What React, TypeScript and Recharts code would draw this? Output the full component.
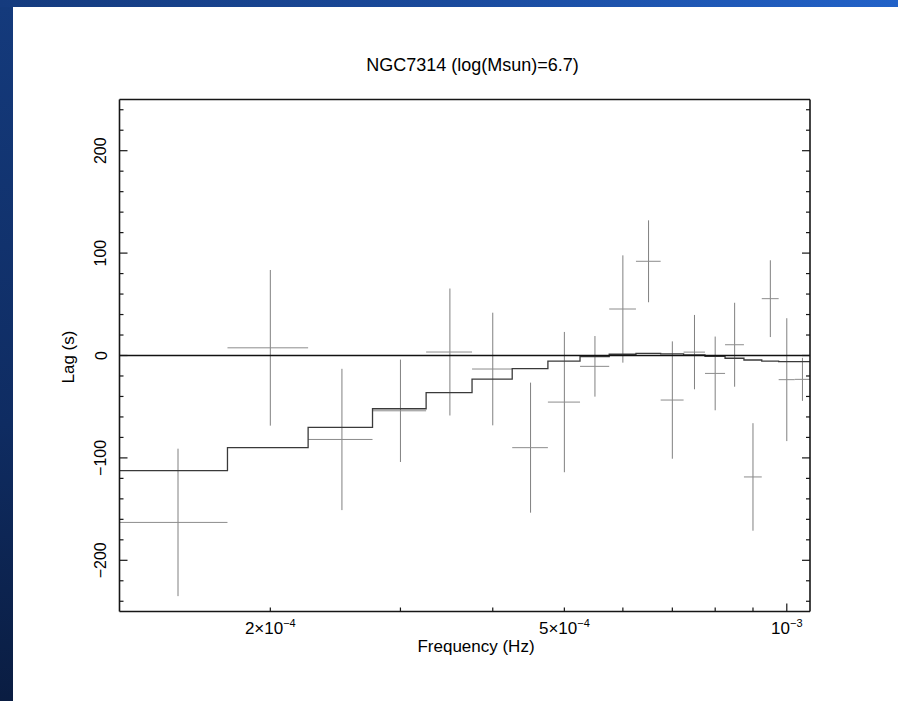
import React from "react";
import {
  ComposedChart,
  Scatter,
  Line,
  XAxis,
  YAxis,
  ErrorBar,
  ReferenceLine,
  Customized,
} from "recharts";

// frequency bins (Hz), centres of each bin
const freqs = [
  1.5e-4, 2.0e-4, 2.5e-4, 3.0e-4, 3.5e-4, 4.0e-4, 4.5e-4, 5.0e-4, 5.5e-4, 6.0e-4,
  6.5e-4, 7.0e-4, 7.5e-4, 8.0e-4, 8.5e-4, 9.0e-4, 9.5e-4, 1.0e-3, 1.05e-3,
];
const BIN_HALF = 2.5e-5;

// measured lags and 1-sigma errors (s)
const lags = [
  -163, 7.5, -82, -54, 3.4, -13.2, -90, -45.5, -10.6, 45.4, 92, -43.5, 3.3, -17.5,
  10.5, -118.6, 55.5, -23.6, -23.3,
];
const lagErrs = [
  72, 76, 69, 50, 62, 55, 63.5, 68.5, 29.6, 52.4, 40, 57.3, 36.3, 36, 41, 52.5, 37.5,
  60, 21,
];

// model (step histogram)
const modelLags = [
  -112.5, -90, -70.1, -52, -36.3, -23, -12.9, -5.4, -1, 1.2, 2.1, 1.5, 0.5, -0.8,
  -2.7, -4.4, -5.4, -6, -6,
];

const xDomain = [1.25e-4, 1.075e-3];
const yDomain = [-250, 250];

const xTicks = [2e-4, 3e-4, 4e-4, 5e-4, 6e-4, 7e-4, 8e-4, 9e-4, 1e-3];
const xLabels = [
  { value: 2e-4, base: "2×10", exp: "−4" },
  { value: 5e-4, base: "5×10", exp: "−4" },
  { value: 1e-3, base: "10", exp: "−3" },
];
const xDecades = [1e-3];

const yTicks = [
  -240, -220, -200, -180, -160, -140, -120, -100, -80, -60, -40, -20, 0, 20, 40, 60,
  80, 100, 120, 140, 160, 180, 200, 220, 240,
];
const yLabels = [-200, -100, 0, 100, 200];

const FONT = "'Liberation Sans', Arial, Helvetica, sans-serif";
const INK = "#161616";

const points = freqs.map((f, i) => ({
  f,
  lag: lags[i],
  errX: BIN_HALF,
  errY: lagErrs[i],
}));

const stepData = freqs
  .map((f, i) => ({ f: f - BIN_HALF, lag: modelLags[i] }))
  .concat([
    {
      f: freqs[freqs.length - 1] + BIN_HALF,
      lag: modelLags[modelLags.length - 1],
    },
  ]);

const fmtY = (v: number) => (v < 0 ? `−${Math.abs(v)}` : `${v}`);

function BottomTick(props: any) {
  const { x, y, payload } = props;
  const v = payload.value;
  const len = xDecades.includes(v) ? 8 : 4;
  const lab = xLabels.find((l) => l.value === v);
  return (
    <g>
      <line x1={x} x2={x} y1={y} y2={y - len} stroke={INK} strokeWidth={1.2} />
      {lab && (
        <text
          x={x}
          y={y + 22}
          textAnchor="middle"
          fontSize={17}
          fontFamily={FONT}
          fill="#000"
        >
          {lab.base}
          <tspan dy={-7} fontSize={11}>
            {lab.exp}
          </tspan>
        </text>
      )}
    </g>
  );
}

function TopTick(props: any) {
  const { x, y, payload } = props;
  const len = xDecades.includes(payload.value) ? 8 : 4;
  return <line x1={x} x2={x} y1={y} y2={y + len} stroke={INK} strokeWidth={1.2} />;
}

function LeftTick(props: any) {
  const { x, y, payload } = props;
  const v = payload.value;
  const major = yLabels.includes(v);
  const tx = x - 13;
  return (
    <g>
      <line x1={x} x2={x + (major ? 8 : 4)} y1={y} y2={y} stroke={INK} strokeWidth={1.2} />
      {major && (
        <text
          x={tx}
          y={y}
          transform={`rotate(-90 ${tx} ${y})`}
          textAnchor="middle"
          fontSize={16}
          fontFamily={FONT}
          fill="#000"
        >
          {fmtY(v)}
        </text>
      )}
    </g>
  );
}

function RightTick(props: any) {
  const { x, y, payload } = props;
  const major = yLabels.includes(payload.value);
  return (
    <line x1={x} x2={x - (major ? 8 : 4)} y1={y} y2={y} stroke={INK} strokeWidth={1.2} />
  );
}

function Texts() {
  return (
    <g fontFamily={FONT} fill="#000">
      <text x={472.5} y={71} textAnchor="middle" fontSize={18}>
        NGC7314 (log(Msun)=6.7)
      </text>
      <text x={476} y={652} textAnchor="middle" fontSize={17}>
        Frequency (Hz)
      </text>
      <text
        x={74}
        y={357}
        transform="rotate(-90 74 357)"
        textAnchor="middle"
        fontSize={17}
      >
        Lag (s)
      </text>
    </g>
  );
}

export default function App() {
  return (
    <div
      style={{
        position: "absolute",
        left: 0,
        top: 0,
        width: 898,
        height: 701,
        background: "linear-gradient(90deg, #153b7e 0%, #1a4a9c 50%, #2262c8 100%)",
        overflow: "hidden",
      }}
    >
      <div
        style={{
          position: "absolute",
          left: 0,
          top: 7,
          width: 13,
          bottom: 0,
          background: "linear-gradient(180deg, #143a7c 0%, #0f2c62 60%, #0a1d42 100%)",
        }}
      />
      <div
        style={{
          position: "absolute",
          left: 13,
          top: 7,
          right: 0,
          bottom: 0,
          background: "#ffffff",
        }}
      />
      <div style={{ position: "absolute", left: 0, top: 0 }}>
        <ComposedChart
          width={898}
          height={701}
          margin={{ top: 98.5, right: 87, bottom: 88.5, left: 118.5 }}
        >
          <XAxis
            dataKey="f"
            type="number"
            scale="log"
            domain={xDomain}
            allowDataOverflow
            ticks={xTicks}
            interval={0}
            height={1}
            tickSize={0}
            tickMargin={0}
            tickLine={false}
            tick={<BottomTick />}
            axisLine={{ stroke: INK, strokeWidth: 1.6 }}
          />
          <XAxis
            xAxisId="top"
            orientation="top"
            type="number"
            scale="log"
            domain={xDomain}
            allowDataOverflow
            ticks={xTicks}
            interval={0}
            height={1}
            tickSize={0}
            tickMargin={0}
            tickLine={false}
            tick={<TopTick />}
            axisLine={{ stroke: INK, strokeWidth: 1.6 }}
          />
          <YAxis
            dataKey="lag"
            type="number"
            domain={yDomain}
            allowDataOverflow
            ticks={yTicks}
            interval={0}
            width={1}
            tickSize={0}
            tickMargin={0}
            tickLine={false}
            tick={<LeftTick />}
            axisLine={{ stroke: INK, strokeWidth: 1.6 }}
          />
          <YAxis
            yAxisId="right"
            orientation="right"
            type="number"
            domain={yDomain}
            allowDataOverflow
            ticks={yTicks}
            interval={0}
            width={1}
            tickSize={0}
            tickMargin={0}
            tickLine={false}
            tick={<RightTick />}
            axisLine={{ stroke: INK, strokeWidth: 1.6 }}
          />
          <Scatter
            data={points}
            dataKey="lag"
            shape={() => <g />}
            isAnimationActive={false}
          >
            <ErrorBar
              dataKey="errY"
              direction="y"
              width={0}
              stroke="#808080"
              strokeWidth={1}
              isAnimationActive={false}
            />
            <ErrorBar
              dataKey="errX"
              direction="x"
              width={0}
              stroke="#8c8c8c"
              strokeWidth={1}
              isAnimationActive={false}
            />
          </Scatter>
          <Line
            data={stepData}
            dataKey="lag"
            type="stepAfter"
            stroke="#3a3a3a"
            strokeWidth={1.3}
            dot={false}
            activeDot={false}
            isAnimationActive={false}
          />
          <ReferenceLine y={0} stroke="#111" strokeWidth={1.3} />
          <Customized component={Texts} />
        </ComposedChart>
      </div>
    </div>
  );
}
